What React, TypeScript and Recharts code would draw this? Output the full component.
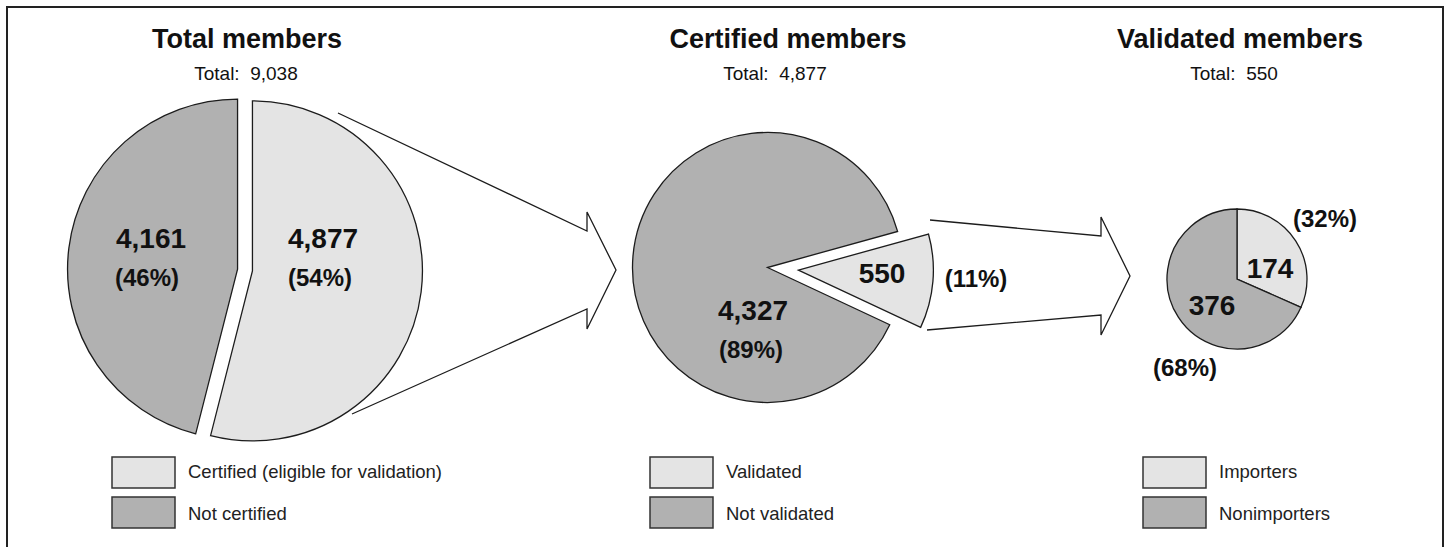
import React from 'react';
import { PieChart, Pie, Cell, Customized } from 'recharts';

const W = 1447;
const H = 547;

// ---- data ----
const titles = ['Total members', 'Certified members', 'Validated members'];
const totalCategories = ['Certified (eligible for validation)', 'Not certified'];
const totalValues = [4877, 4161];
const certifiedCategories = ['Validated', 'Not validated'];
const certifiedValues = [550, 4327];
const validatedCategories = ['Importers', 'Nonimporters'];
const validatedValues = [174, 376];

// ---- style ----
const LIGHT = '#e4e4e4';
const DARK = '#b1b1b1';
const STROKE = '#1c1c1c';
const TEXT = '#111111';
const FONT = '"Liberation Sans", Arial, Helvetica, sans-serif';
const sliceColors = [LIGHT, DARK];

// ---- layout ----
const pies = [
  { cats: totalCategories, vals: totalValues, cx: 245, cy: 270, r: 170, start: 90, explode: [7.5, 7.5] },
  { cats: certifiedCategories, vals: certifiedValues, cx: 767.5, cy: 267.5, r: 135, start: 15.5, explode: [31, 0] },
  { cats: validatedCategories, vals: validatedValues, cx: 1237, cy: 279, r: 70, start: 90, explode: [0, 0] },
];
const titleLayout = [
  { x: 247, tx: 246 },
  { x: 788, tx: 775 },
  { x: 1240, tx: 1234 },
];
// label positions [pie][slice] => value pos, pct pos
const labelLayout = [
  [ { vx: 323, vy: 248, px: 320, py: 286 }, { vx: 151, vy: 248, px: 147, py: 286 } ],
  [ { vx: 882, vy: 283, px: 976, py: 287 }, { vx: 753, vy: 320, px: 751, py: 358 } ],
  [ { vx: 1270, vy: 278, px: 1325, py: 227 }, { vx: 1212, vy: 315, px: 1185, py: 376 } ],
];
const legendX = [112, 650, 1143];

const fmt = (n: number) => n.toLocaleString('en-US');
const sum = (a: number[]) => a.reduce((s, v) => s + v, 0);

function sliceOffset(vals: number[], idx: number, start: number, dist: number) {
  const total = sum(vals);
  let acc = 0;
  for (let i = 0; i < idx; i++) acc += vals[i];
  const a0 = start - (acc / total) * 360;
  const a1 = a0 - (vals[idx] / total) * 360;
  const mid = ((a0 + a1) / 2) * Math.PI / 180;
  return { dx: dist * Math.cos(mid), dy: -dist * Math.sin(mid) };
}

const Annotations = () => {
  const arrows = [
    '338,113 587,231 587,212 616,270 587,329 587,309 352,414',
    '930,220 1101,236 1101,217 1130,276 1101,335 1101,315 927,330',
  ];
  return (
    <g fontFamily={FONT}>
      <rect x={7} y={7} width={1436} height={620} fill="none" stroke="#222" strokeWidth={2} />
      {arrows.map((p, i) => (
        <polyline key={i} points={p} fill="none" stroke={STROKE} strokeWidth={1.3} strokeLinejoin="miter" />
      ))}
      {pies.map((p, i) => {
        const total = sum(p.vals);
        return (
          <g key={i}>
            <text x={titleLayout[i].x} y={48} textAnchor="middle" fontSize={27} fontWeight="bold" fill={TEXT}>
              {titles[i]}
            </text>
            <text x={titleLayout[i].tx} y={80} textAnchor="middle" fontSize={19} fill={TEXT}>
              {`Total:\u00a0\u00a0${fmt(total)}`}
            </text>
            {p.cats.map((c, j) => (
              <g key={c}>
                <rect x={legendX[i]} y={457 + j * 40} width={63} height={31} fill={sliceColors[j]} stroke="#333" strokeWidth={1.5} />
                <text x={legendX[i] + 76} y={478 + j * 42} fontSize={18.5} fill="#222">{c}</text>
              </g>
            ))}
          </g>
        );
      })}
    </g>
  );
};

function makeLabel(pieIdx: number, sliceIdx: number) {
  const total = sum(pies[pieIdx].vals);
  return (props: any) => {
    if (props.index !== sliceIdx) return null;
    const L = labelLayout[pieIdx][sliceIdx];
    const v = pies[pieIdx].vals[sliceIdx];
    return (
      <g fontFamily={FONT} fontWeight="bold" fill={TEXT} textAnchor="middle">
        <text x={L.vx} y={L.vy} fontSize={28} fill={TEXT} textAnchor="middle" stroke="none">{fmt(v)}</text>
        <text x={L.px} y={L.py} fontSize={24} fill={TEXT} textAnchor="middle" stroke="none">{`(${Math.round((v / total) * 100)}%)`}</text>
      </g>
    );
  };
}

export default function App() {
  return (
    <div style={{ position: 'absolute', left: 0, top: 0, width: W, height: H, background: '#fff' }}>
      <PieChart width={W} height={H} margin={{ top: 0, right: 0, bottom: 0, left: 0 }}>
        <Customized component={Annotations} />
        {pies.flatMap((p, i) => {
          const data = p.cats.map((name, k) => ({ name, value: p.vals[k] }));
          return p.vals.map((_, j) => {
            const o = sliceOffset(p.vals, j, p.start, p.explode[j]);
            return (
              <Pie
                key={`${i}-${j}`}
                data={data}
                dataKey="value"
                nameKey="name"
                cx={p.cx + o.dx}
                cy={p.cy + o.dy}
                innerRadius={0}
                outerRadius={p.r}
                startAngle={p.start}
                endAngle={p.start - 360}
                isAnimationActive={false}
                label={makeLabel(i, j)}
                labelLine={false}
                legendType="none"
              >
                {data.map((d, k) => (
                  <Cell
                    key={d.name}
                    fill={k === j ? sliceColors[k] : 'none'}
                    stroke={k === j ? STROKE : 'none'}
                    strokeWidth={1.3}
                  />
                ))}
              </Pie>
            );
          });
        })}
      </PieChart>
    </div>
  );
}
